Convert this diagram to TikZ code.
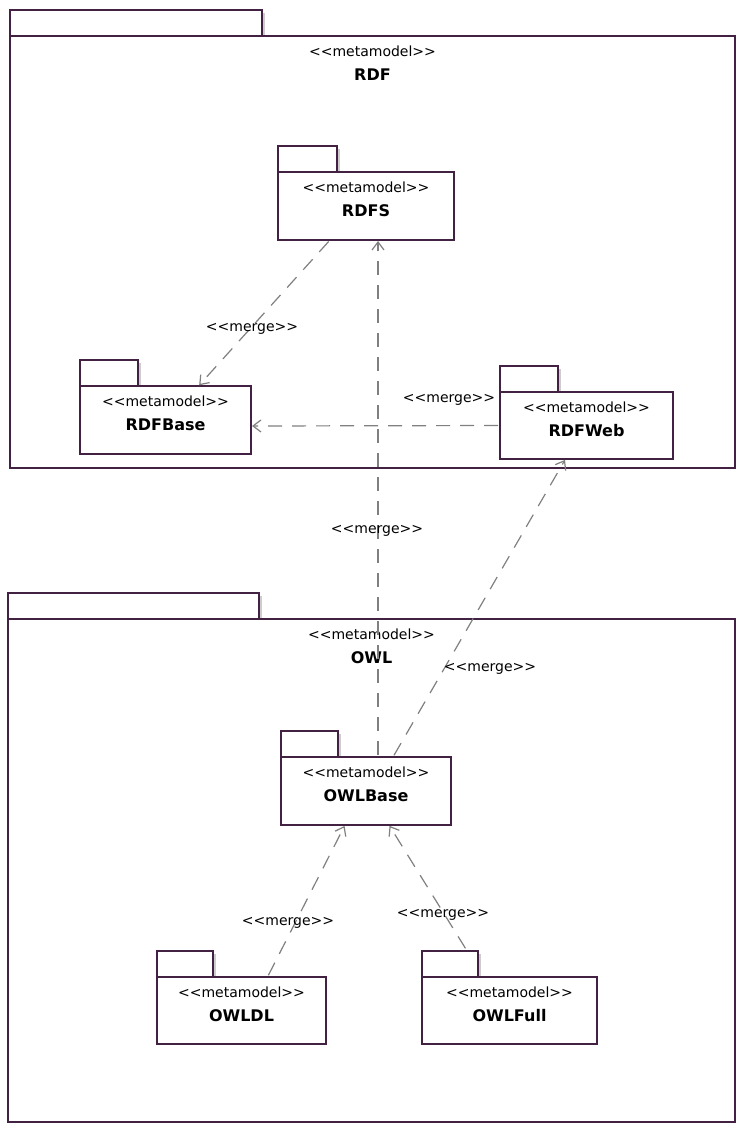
\documentclass[tikz,border=0pt]{standalone}
\usepackage{fontspec}
\setmainfont{DejaVu Sans}[Ligatures=TeXOff]
\usetikzlibrary{arrows.meta}

\definecolor{pkgline}{RGB}{66,33,66}
\definecolor{pkgshadow}{RGB}{205,205,205}

\tikzset{
  pkgbox/.style={draw=pkgline,line width=1.4pt,fill=white},
  pkgbody/.style={anchor=north west,inner sep=0pt,outer sep=0pt},
  stereo/.style={font=\fontsize{14}{14}\selectfont,inner sep=0pt},
  pkgname/.style={font=\fontsize{16}{16}\selectfont\bfseries,inner sep=0pt},
  merge/.style={draw=gray,line width=1.2pt,dash pattern=on 14pt off 10pt,
    shorten <=2pt,shorten >=1pt,-{Straight Barb[length=8pt,width=12pt]}},
  mlabel/.style={font=\fontsize{14}{14}\selectfont,inner sep=0pt}
}

% \pkg{nom}{x}{y}{largeur}{hauteur}{onglet}{texte}
\newcommand{\pkg}[7]{%
  \node[pkgbody,minimum width=#4pt,minimum height=#5pt] (#1) at (#2,#3) {};
  \fill[pkgshadow,shift={(3,3)}] (#2,#3) rectangle ++(#6,-26);
  \fill[pkgshadow,shift={(3,3)}] (#1.north west) rectangle (#1.south east);
  \draw[pkgbox] (#2,#3) rectangle ++(#6,-26);
  \draw[pkgbox] (#1.north west) rectangle (#1.south east);
  \node[stereo] (#1-st) at ([yshift=-15pt]#1.north) {<<metamodel>>};
  \node[pkgname] (#1-nm) at ([yshift=-39pt]#1.north) {#7};
}

\begin{document}
\begin{tikzpicture}[x=1pt,y=-1pt]
\useasboundingbox (0,0) rectangle (738,1130);

% paquetages englobants
\pkg{rdf}{10}{36}{725}{432}{252}{RDF}
\pkg{owl}{8}{619}{727}{503}{251}{OWL}

% paquetages internes
\pkg{rdfs}{278}{172}{176}{68}{59}{RDFS}
\pkg{rdfbase}{80}{386}{171}{68}{58}{RDFBase}
\pkg{rdfweb}{500}{392}{173}{67}{58}{RDFWeb}
\pkg{owlbase}{281}{757}{170}{68}{57}{OWLBase}
\pkg{owldl}{157}{977}{169}{67}{56}{OWLDL}
\pkg{owlfull}{422}{977}{175}{67}{56}{OWLFull}

% dependances merge
\draw[merge] ([xshift=-36pt]rdfs.south) -- ([xshift=33pt]rdfbase.north);
\draw[merge] (rdfweb.west) -- ([yshift=-6pt]rdfbase.east);
\draw[merge] ([xshift=12pt]owlbase.north) -- ([xshift=12pt]rdfs.south);
\draw[merge] ([xshift=27pt]owlbase.north) -- ([xshift=-21pt]rdfweb.south);
\draw[merge] ([xshift=26pt]owldl.north) -- ([xshift=-21pt]owlbase.south);
\draw[merge] ([xshift=-43pt,yshift=27pt]owlfull.north) -- ([xshift=23pt]owlbase.south);

\node[mlabel] (m1) at (252,329) {<<merge>>};
\node[mlabel] (m2) at (449,400) {<<merge>>};
\node[mlabel] (m3) at (377,531) {<<merge>>};
\node[mlabel] (m4) at (490,669) {<<merge>>};
\node[mlabel] (m5) at (288,923) {<<merge>>};
\node[mlabel] (m6) at (443,915) {<<merge>>};
\end{tikzpicture}
\end{document}
